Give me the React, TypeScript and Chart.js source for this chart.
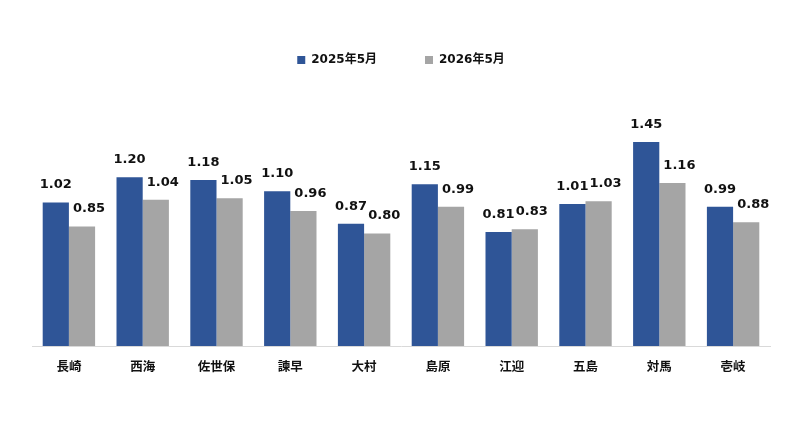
import { useEffect, useRef } from 'react';
import { Chart, registerables } from 'chart.js';

Chart.register(...registerables);

const categories = ['長崎', '西海', '佐世保', '諫早', '大村', '島原', '江迎', '五島', '対馬', '壱岐'];
const series2025 = [1.02, 1.2, 1.18, 1.1, 0.87, 1.15, 0.81, 1.01, 1.45, 0.99];
const series2026 = [0.85, 1.04, 1.05, 0.96, 0.8, 0.99, 0.83, 1.03, 1.16, 0.88];
const seriesNames = ['2025年5月', '2026年5月'];

const FONT = '"DejaVu Sans", "Noto Sans CJK JP", sans-serif';

// value labels above each bar; the second series is nudged right a little
const valueLabels = {
  id: 'valueLabels',
  afterDatasetsDraw(chart: any) {
    const ctx = chart.ctx;
    ctx.save();
    ctx.font = `bold 13px ${FONT}`;
    ctx.fillStyle = '#111';
    ctx.textAlign = 'center';
    ctx.textBaseline = 'bottom';
    chart.data.datasets.forEach((ds: any, di: number) => {
      const meta = chart.getDatasetMeta(di);
      const shift = di === 1 ? 7 : 0;
      meta.data.forEach((bar: any, i: number) => {
        ctx.fillText(ds.data[i].toFixed(2), bar.x + shift, bar.y - 11);
      });
    });
    ctx.restore();
  },
};

export default function App() {
  const canvasRef = useRef<HTMLCanvasElement>(null);

  useEffect(() => {
    const el = canvasRef.current;
    if (!el) return;

    const chart = new Chart(el, {
      type: 'bar',
      data: {
        labels: categories,
        datasets: [
          {
            label: seriesNames[0],
            data: series2025,
            backgroundColor: '#2F5597',
            categoryPercentage: 0.71,
            barPercentage: 1.0,
          },
          {
            label: seriesNames[1],
            data: series2026,
            backgroundColor: '#A5A5A5',
            categoryPercentage: 0.71,
            barPercentage: 1.0,
          },
        ],
      },
      options: {
        responsive: false,
        animation: false,
        layout: {
          padding: { top: 6, left: 32, right: 30, bottom: 54 },
        },
        plugins: {
          legend: {
            position: 'top',
            labels: {
              boxWidth: 8,
              boxHeight: 8,
              padding: 48,
              color: '#111',
              font: { family: FONT, size: 12, weight: 'bold' },
            },
          },
          tooltip: { enabled: false },
        },
        scales: {
          x: {
            grid: { display: false },
            border: { display: true, color: '#D9D9D9', width: 1 },
            ticks: {
              color: '#111',
              padding: 6,
              font: { family: FONT, size: 12.5, weight: 'bold' },
            },
          },
          y: {
            display: false,
            min: 0,
            max: 1.92,
          },
        },
      },
      plugins: [valueLabels],
    });

    return () => {
      chart.destroy();
    };
  }, []);

  return (
    <div style={{ position: 'fixed', left: 0, top: 0, width: 800, height: 435, background: '#fff' }}>
      <canvas ref={canvasRef} width={800} height={435} style={{ width: 800, height: 435 }} />
    </div>
  );
}
